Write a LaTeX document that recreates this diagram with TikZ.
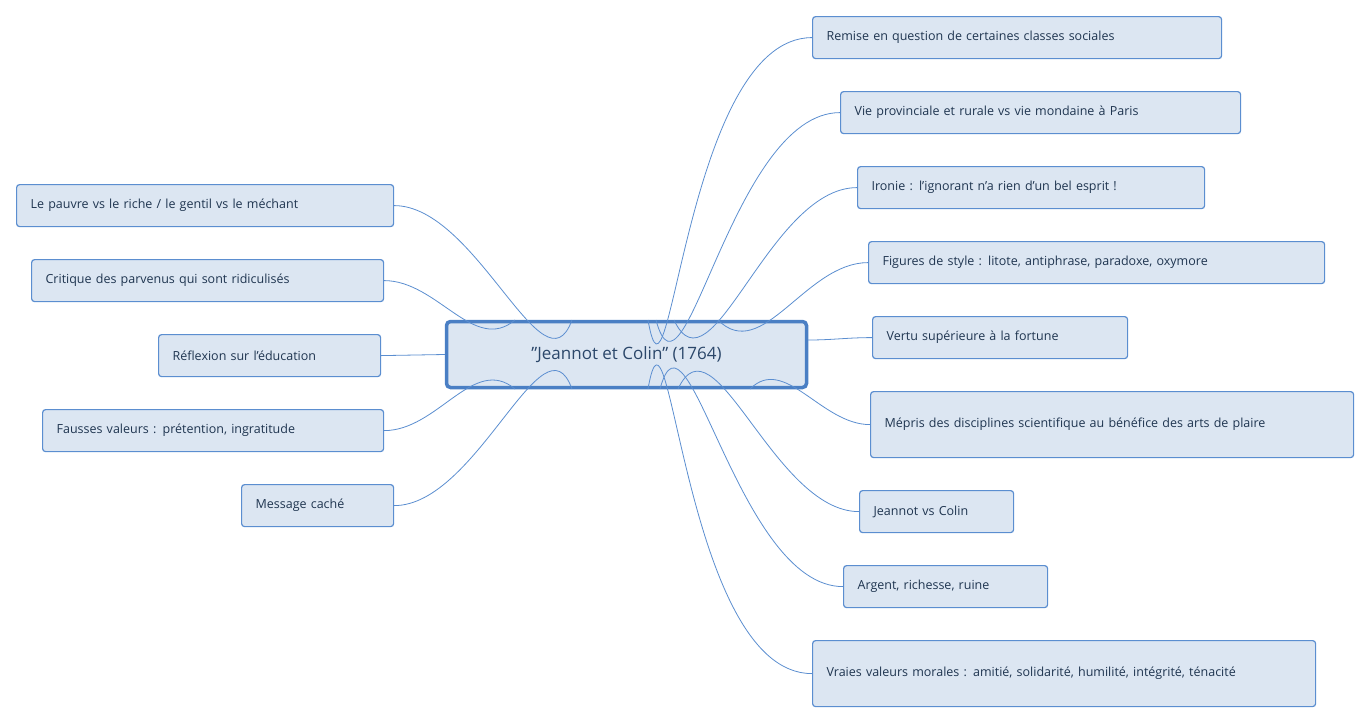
\documentclass[tikz,border=0pt]{standalone}
\usepackage{fontspec}
\setmainfont{Open Sans}
\definecolor{bfill}{HTML}{DCE6F2}
\definecolor{bline}{HTML}{5B8ED0}
\definecolor{btext}{HTML}{1F3550}
\definecolor{cline}{HTML}{4A7FC4}
\begin{document}
\begin{tikzpicture}[x=1pt,y=-1pt,
  box/.style={draw=bline,fill=bfill,rounded corners=3pt,line width=1.2pt,inner xsep=14pt,inner ysep=0pt,align=left,text=btext,font=\fontsize{12.5}{19}\selectfont,anchor=north west},
  conn/.style={draw=bline,line width=0.8pt}]
\useasboundingbox (0,0) rectangle (1370,723);
\newcommand{\bx}[6]{\node[box,text width={#4-#2-28},minimum height={#5-#3}] (#1) at (#2,#3) {#6};}
\node[draw=cline,fill=bfill,rounded corners=4pt,line width=3.5pt,minimum width=360,minimum height=66,text=btext!80!bline,font=\fontsize{17}{20}\selectfont] (c) at (626.5,354.5) {"Jeannot et Colin" (1764)};
% left
\bx{l1}{16}{184}{393}{226}{Le pauvre vs le riche / le gentil vs le méchant}
\bx{l2}{31}{259}{383}{301}{Critique des parvenus qui sont ridiculisés}
\bx{l3}{158}{334}{380}{376}{Réflexion sur l'éducation}
\bx{l4}{42}{409}{383}{451}{Fausses valeurs : prétention, ingratitude}
\bx{l5}{241}{484}{393}{526}{Message caché}
% right
\bx{r1}{812}{16}{1221}{58}{Remise en question de certaines classes sociales}
\bx{r2}{840}{91}{1240}{133}{Vie provinciale et rurale vs vie mondaine à Paris}
\bx{r3}{857}{166}{1204}{208}{Ironie : l'ignorant n'a rien d'un bel esprit !}
\bx{r4}{868}{241}{1324}{283}{Figures de style : litote, antiphrase, paradoxe, oxymore}
\bx{r5}{872}{316}{1127}{358}{Vertu supérieure à la fortune}
\bx{r6}{870}{391}{1353}{457}{Mépris des disciplines scientifique au bénéfice des arts de plaire}
\bx{r7}{859}{490}{1013}{532}{Jeannot vs Colin}
\bx{r8}{843}{565}{1047}{607}{Argent, richesse, ruine}
\bx{r9}{812}{640}{1315}{706}{Vraies valeurs morales : amitié, solidarité, humilité, intégrité, ténacité}
% start points
\coordinate (sl1) at (572,320);
\coordinate (sl2) at (515,320);
\coordinate (sl4) at (515,389);
\coordinate (sl5) at (572,389);
\coordinate (sr1) at (648,320);
\coordinate (sr2) at (656,320);
\coordinate (sr3) at (674,320);
\coordinate (sr4) at (718,320);
\coordinate (sr5) at (808,340);
\coordinate (sr6) at (750,389);
\coordinate (sr7) at (678,389);
\coordinate (sr8) at (660,389);
\coordinate (sr9) at (648,389);
\begin{scope}[on background layer/.style={}]
\draw[conn] (sl1) to[out=-110,in=0] (l1.east);
\draw[conn] (sl2) to[out=-140,in=0] (l2.east);
\draw[conn] (c.west) -- (l3.east);
\draw[conn] (sl4) to[out=140,in=0] (l4.east);
\draw[conn] (sl5) to[out=110,in=0] (l5.east);
\draw[conn] (sr1) to[out=-80,in=180] (r1.west);
\draw[conn] (sr2) to[out=-75,in=180] (r2.west);
\draw[conn] (sr3) to[out=-65,in=180] (r3.west);
\draw[conn] (sr4) to[out=-45,in=180] (r4.west);
\draw[conn] (sr5) to[out=0,in=180] (r5.west);
\draw[conn] (sr6) to[out=45,in=180] (r6.west);
\draw[conn] (sr7) to[out=65,in=180] (r7.west);
\draw[conn] (sr8) to[out=75,in=180] (r8.west);
\draw[conn] (sr9) to[out=80,in=180] (r9.west);
\end{scope}
\end{tikzpicture}
\end{document}
